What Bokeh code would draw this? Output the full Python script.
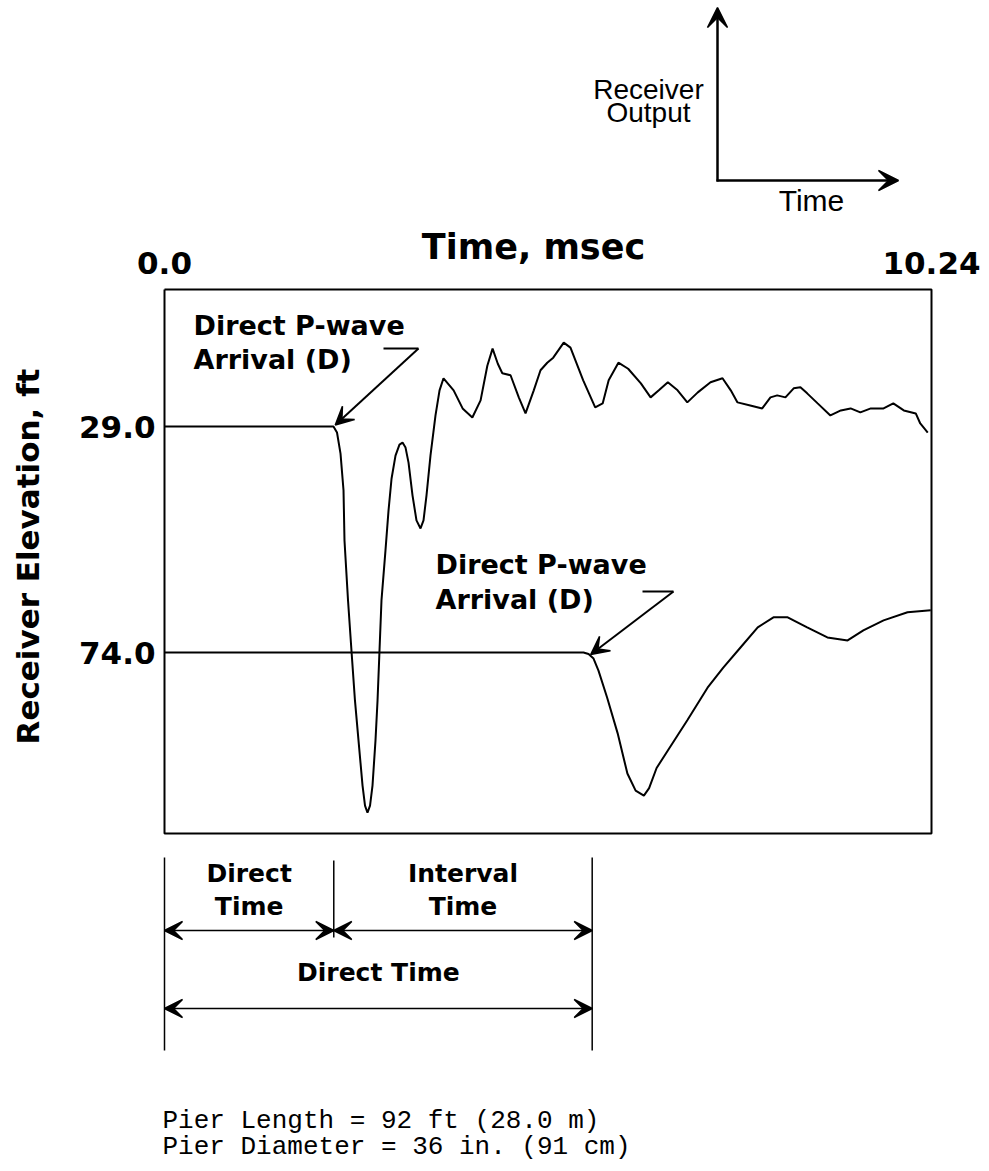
import math
from bokeh.plotting import figure
from bokeh.models import Range1d, Label, Arrow, VeeHead
from bokeh.embed import file_html
from bokeh.resources import INLINE

# ---------------- data ----------------
time_range = [0.0, 10.24]                 # msec
elevations = [29.0, 74.0]                 # ft, receiver elevations
elev_labels = ["29.0", "74.0"]
time_labels = ["0.0", "10.24"]
arrival_times = [2.26, 5.71]              # direct P-wave arrivals, msec

# trace at 29.0 ft: time (msec) and receiver output (display units, +up)
t_29 = [0.0, 2.256, 2.303, 2.350, 2.390, 2.403, 2.450, 2.497, 2.543, 2.590,
        2.644, 2.677, 2.710, 2.744, 2.777, 2.817, 2.844, 2.870, 2.897, 2.950,
        2.991, 3.031, 3.084, 3.137, 3.178, 3.218, 3.258, 3.311, 3.364, 3.418,
        3.458, 3.498, 3.551, 3.618, 3.672, 3.725, 3.86, 3.98, 4.11, 4.22,
        4.31, 4.38, 4.45, 4.51, 4.62, 4.73, 4.82, 4.93, 5.02, 5.11,
        5.19, 5.33, 5.42, 5.59, 5.75, 5.85, 5.93, 6.06, 6.19, 6.36,
        6.49, 6.60, 6.72, 6.85, 6.98, 7.12, 7.29, 7.45, 7.56, 7.65,
        7.82, 7.98, 8.09, 8.18, 8.29, 8.40, 8.49, 8.58, 8.72, 8.89,
        9.03, 9.16, 9.29, 9.43, 9.60, 9.73, 9.87, 10.03, 10.09, 10.19]
a_29 = [0.0, 0.0, -1.2, -5.4, -12.7, -22.7, -34.6, -44.8, -54.6, -62.5,
        -71.5, -75.5, -76.9, -75.5, -71.5, -62.5, -54.6, -44.8, -34.6, -24.7,
        -16.7, -10.4, -5.8, -3.6, -3.2, -4.2, -7.2, -13.7, -18.7, -20.3,
        -18.7, -13.7, -5.8, 2.2, 7.2, 9.6, 7.2, 3.6, 1.8, 5.2,
        12.1, 15.5, 12.5, 10.6, 10.2, 5.8, 2.6, 7.2, 11.2, 12.7,
        13.7, 16.7, 15.7, 9.2, 3.8, 4.6, 9.2, 12.7, 11.5, 8.6,
        5.8, 7.2, 8.8, 7.2, 4.8, 6.8, 8.8, 9.6, 7.2, 4.8,
        4.2, 3.6, 5.8, 6.2, 5.8, 7.6, 7.8, 6.6, 4.6, 2.2,
        3.2, 3.6, 2.8, 3.6, 3.6, 4.6, 3.2, 2.6, 0.6, -1.2]

# trace at 74.0 ft
t_74 = [0.0, 5.594, 5.661, 5.728, 5.794, 5.91, 6.05, 6.18, 6.29, 6.40,
        6.47, 6.57, 6.72, 6.98, 7.25, 7.46, 7.69, 7.92, 8.13, 8.32,
        8.58, 8.85, 9.12, 9.33, 9.60, 9.92, 10.23]
a_74 = [0.0, 0.0, -0.3, -1.2, -3.6, -9.0, -16.1, -24.1, -27.5, -28.5,
        -27.0, -23.0, -19.5, -13.5, -7.0, -3.0, 1.0, 5.0, 7.0, 7.0,
        5.0, 3.0, 2.4, 4.4, 6.4, 8.0, 8.4]

pier_notes = ["Pier Length = 92 ft (28.0 m)",
              "Pier Diameter = 36 in. (91 cm)"]

# ---------------- layout helpers (page pixels -> plot units) ----------------
W, H = 989, 1171
FL, FR, FT, FB = 164, 931, 289, 833          # record box edges on the page
PX_PER_FT = 226.0 / 45.0                     # 29 ft row at 426 px, 74 ft row at 652 px
def ey(py):
    return 29.0 + (py - 426.0) / PX_PER_FT
def tx(px):
    return (px - FL) * (time_range[1] - time_range[0]) / (FR - FL)

FONT = "DejaVu Sans"

p = figure(width=W, height=H,
           x_range=Range1d(tx(0), tx(W)),
           y_range=Range1d(ey(H), ey(0)),
           output_backend="svg", toolbar_location=None,
           min_border=0)
p.axis.visible = False
p.grid.visible = False
p.outline_line_color = None
p.background_fill_color = "white"
p.border_fill_color = "white"

# record box (time axis 0..10.24 msec)
box_top, box_bot = ey(FT), ey(FB)
p.line([time_range[0], time_range[1], time_range[1], time_range[0], time_range[0]],
       [box_top, box_top, box_bot, box_bot, box_top],
       line_color="black", line_width=2)

# traces
p.line(t_29, [elevations[0] - a for a in a_29], line_color="black", line_width=2)
p.line(t_74, [elevations[1] - a for a in a_74], line_color="black", line_width=2)

def label(x, y, text, size, align="left", font=FONT, style="bold", angle=0.0):
    p.add_layout(Label(x=x, y=y, text=text, text_font=font, text_font_style=style,
                       text_font_size=f"{size}px", text_align=align, angle=angle,
                       text_baseline="middle", text_color="black"))

def line(x0, y0, x1, y1, width=2, head_end=None, head_start=None):
    p.add_layout(Arrow(x_start=x0, y_start=y0, x_end=x1, y_end=y1,
                       start=head_start, end=head_end,
                       line_color="black", line_width=width))

def head(size=18):
    return VeeHead(size=size, fill_color="black", line_color="black", line_width=1.5)

# axis tick labels and titles
label(time_range[0], ey(262), time_labels[0], 31, align="center")
label(time_range[1], ey(262), time_labels[1], 31, align="center")
label(tx(533), ey(246), "Time, msec", 35, align="center")
label(tx(155), elevations[0], elev_labels[0], 31, align="right")
label(tx(155), elevations[1], elev_labels[1], 31, align="right")
label(tx(27), ey(556), "Receiver Elevation, ft", 31, align="center", angle=math.pi / 2)

# "Direct P-wave Arrival (D)" labels with leader arrows
label(tx(193), ey(325), "Direct P-wave", 27)
label(tx(193), ey(359), "Arrival (D)", 27)
line(tx(383), ey(348), tx(418), ey(348))
line(tx(418), ey(348), arrival_times[0] + 0.02, elevations[0] - 0.3, head_end=head())

label(tx(435), ey(564), "Direct P-wave", 27)
label(tx(435), ey(599), "Arrival (D)", 27)
line(tx(642), ey(591), tx(673), ey(591))
line(tx(673), ey(591), arrival_times[1] - 0.02, elevations[1] + 0.4, head_end=head())

# timing annotations below the record
x_marks = [time_range[0], arrival_times[0], arrival_times[1]]
line(x_marks[0], ey(857), x_marks[0], ey(1050), width=1.5)
line(x_marks[1], ey(860), x_marks[1], ey(937), width=1.5)
line(x_marks[2], ey(857), x_marks[2], ey(1050), width=1.5)
line(x_marks[0], ey(930), x_marks[1], ey(930), width=1.5, head_start=head(), head_end=head())
line(x_marks[1], ey(930), x_marks[2], ey(930), width=1.5, head_start=head(), head_end=head())
line(x_marks[0], ey(1008), x_marks[2], ey(1008), width=1.5, head_start=head(), head_end=head())
mid_a = (x_marks[0] + x_marks[1]) / 2
mid_b = (x_marks[1] + x_marks[2]) / 2
mid_c = (x_marks[0] + x_marks[2]) / 2
label(mid_a, ey(873), "Direct", 25, align="center")
label(mid_a, ey(906), "Time", 25, align="center")
label(mid_b, ey(873), "Interval", 25, align="center")
label(mid_b, ey(906), "Time", 25, align="center")
label(mid_c, ey(972), "Direct Time", 25, align="center")

# inset key: receiver output vs time
line(tx(717), ey(181), tx(717), ey(7), width=2.5, head_end=head(20))
line(tx(716), ey(180), tx(898), ey(180), width=2.5, head_end=head(20))
label(tx(648), ey(89), "Receiver", 28, align="center", font="Liberation Sans", style="normal")
label(tx(648), ey(112), "Output", 28, align="center", font="Liberation Sans", style="normal")
label(tx(811), ey(200), "Time", 30, align="center", font="Liberation Sans", style="normal")

# pier notes
label(tx(162), ey(1120), pier_notes[0], 26, font="Liberation Mono", style="normal")
label(tx(162), ey(1146), pier_notes[1], 26, font="Liberation Mono", style="normal")

open("out.html", "w").write(file_html(p, INLINE))
